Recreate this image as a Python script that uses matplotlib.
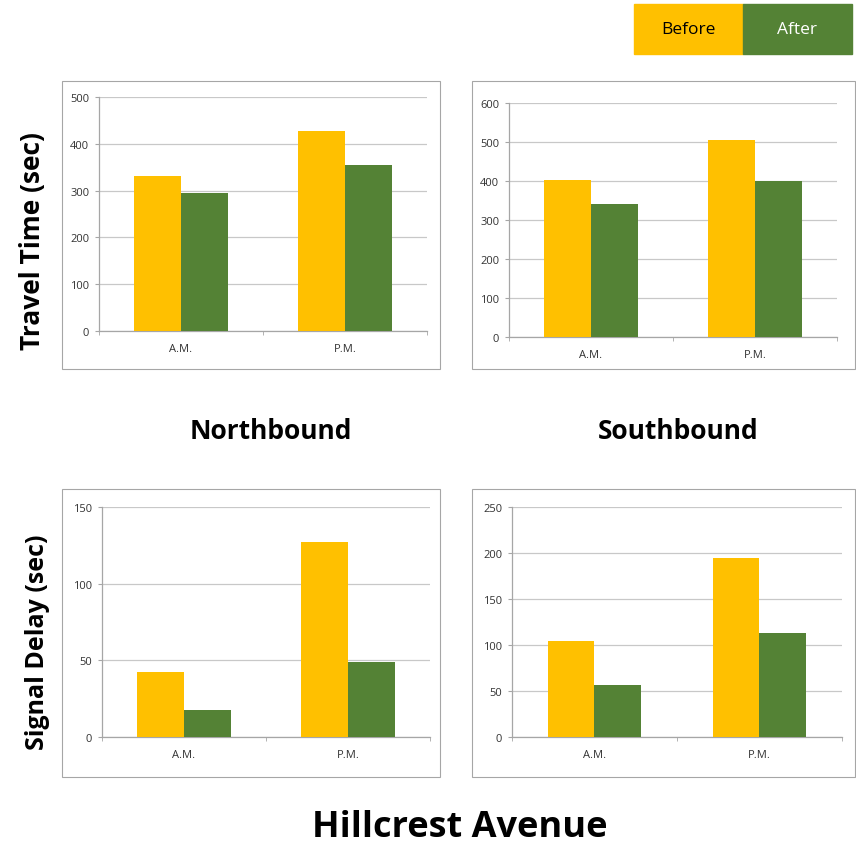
import numpy as np
import matplotlib.pyplot as plt
from matplotlib.patches import Rectangle

W, H = 856, 845

periods = ["A.M.", "P.M."]
nb_travel_before = [332, 428]
nb_travel_after = [295, 355]
sb_travel_before = [403, 505]
sb_travel_after = [340, 399]
nb_delay_before = [42.5, 127]
nb_delay_after = [17.7, 48.6]
sb_delay_before = [104, 195]
sb_delay_after = [56, 113]

yellow = "#FFC000"
green = "#548235"
grid_c = "#C8C8C8"
frame_c = "#A6A6A6"

plt.rcParams['font.family'] = ['Open Sans', 'DejaVu Sans']
fig = plt.figure(figsize=(W / 100, H / 100), dpi=100)


def px_axes(x0, x1, ytop, ybot):
    return fig.add_axes([x0 / W, 1 - ybot / H, (x1 - x0) / W, (ybot - ytop) / H])


def frame(x0, x1, ytop, ybot):
    fig.patches.append(Rectangle((x0 / W, 1 - ybot / H), (x1 - x0) / W, (ybot - ytop) / H,
                                 transform=fig.transFigure, fill=False,
                                 edgecolor=frame_c, linewidth=0.8, zorder=0))


def panel(ax, before, after, ymax, step):
    x = np.arange(len(periods))
    w = 0.284
    ax.bar(x - w / 2, before, w, color=yellow, zorder=3)
    ax.bar(x + w / 2, after, w, color=green, zorder=3)
    ax.set_xlim(-0.5, len(periods) - 0.5)
    ax.set_ylim(0, ymax)
    ax.set_yticks(np.arange(0, ymax + 1, step))
    ax.set_xticks(x)
    ax.set_xticklabels(periods)
    ax.set_xticks([-0.5, 0.5, 1.5], minor=True)
    ax.tick_params(axis='x', which='major', length=0, pad=9, labelsize=8, colors="#333333")
    ax.tick_params(axis='x', which='minor', length=3, color=frame_c, direction='out')
    ax.tick_params(axis='y', length=3, color=frame_c, labelsize=8, colors="#333333", pad=4)
    ax.grid(axis='y', color=grid_c, linewidth=0.9, zorder=0)
    for s in ['top', 'right']:
        ax.spines[s].set_visible(False)
    for s in ['left', 'bottom']:
        ax.spines[s].set_color(frame_c)
        ax.spines[s].set_linewidth(0.9)


frame(62, 440, 82, 370)
frame(472, 855, 82, 370)
frame(62, 440, 490, 778)
frame(472, 855, 490, 778)

ax1 = px_axes(99, 427, 98, 332)
panel(ax1, nb_travel_before, nb_travel_after, 500, 100)
ax2 = px_axes(509, 837, 104, 338)
panel(ax2, sb_travel_before, sb_travel_after, 600, 100)
ax3 = px_axes(102, 430, 508, 738)
panel(ax3, nb_delay_before, nb_delay_after, 150, 50)
ax4 = px_axes(512, 842, 508, 738)
panel(ax4, sb_delay_before, sb_delay_after, 250, 50)

# legend boxes
fig.patches.append(Rectangle((634 / W, 1 - 55 / H), 109 / W, 50 / H,
                             transform=fig.transFigure, color=yellow))
fig.patches.append(Rectangle((743 / W, 1 - 55 / H), 109 / W, 50 / H,
                             transform=fig.transFigure, color=green))
fig.text(688 / W, 1 - 30 / H, "Before", ha='center', va='center', fontsize=12.5, color="black")
fig.text(797 / W, 1 - 30 / H, "After", ha='center', va='center', fontsize=12.5, color="white")

fig.text(271 / W, 1 - 432 / H, "Northbound", ha='center', va='center', fontsize=19, fontweight='bold')
fig.text(678 / W, 1 - 432 / H, "Southbound", ha='center', va='center', fontsize=19, fontweight='bold')
fig.text(33 / W, 1 - 241 / H, "Travel Time (sec)", ha='center', va='center', rotation=90,
         fontsize=19, fontweight='bold')
fig.text(38 / W, 1 - 642 / H, "Signal Delay (sec)", ha='center', va='center', rotation=90,
         fontsize=18, fontweight='bold')
fig.text(460 / W, 1 - 828 / H, "Hillcrest Avenue", ha='center', va='center', fontsize=26,
         fontweight='bold')

fig.savefig("out.png", dpi=100)
